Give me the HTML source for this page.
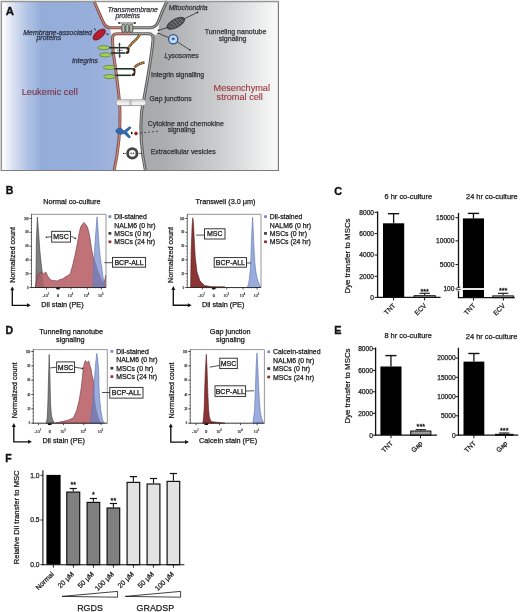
<!DOCTYPE html>
<html><head><meta charset="utf-8"><title>Figure</title>
<style>
html,body{margin:0;padding:0;background:#ffffff;}
body{width:520px;height:612px;overflow:hidden;}
svg{display:block;will-change:transform;}
text{font-family:"Liberation Sans", sans-serif;}
</style></head>
<body>
<svg width="520" height="612" viewBox="0 0 520 612" font-family='"Liberation Sans", sans-serif'>
<rect x="0" y="0" width="520" height="612" fill="#ffffff"/>
<defs>
<linearGradient id="gblue" x1="3.5" y1="0" x2="118" y2="0" gradientUnits="userSpaceOnUse">
<stop offset="0" stop-color="#fbfcfe"/><stop offset="0.06" stop-color="#e2e8f4"/>
<stop offset="0.20" stop-color="#b3c5e6"/><stop offset="0.34" stop-color="#93acd8"/>
<stop offset="0.75" stop-color="#97aedb"/><stop offset="1" stop-color="#a2b5de"/></linearGradient>
<linearGradient id="ggray" x1="140" y1="0" x2="278" y2="0" gradientUnits="userSpaceOnUse">
<stop offset="0" stop-color="#a7a8aa"/><stop offset="0.18" stop-color="#acadaf"/>
<stop offset="0.6" stop-color="#cfd0d1"/><stop offset="0.9" stop-color="#eeefef"/><stop offset="1" stop-color="#fafafa"/></linearGradient>
</defs>
<rect x="0" y="0" width="280" height="172" fill="#ffffff" stroke="none" stroke-width="1"/>
<path d="M2,2 L94,2 C98,10 101,18 104,23.5 Q106,27.8 110,28.5 L112.5,38.5 L113,50 C115.5,70 119.5,92 120,112 C120.5,135 117.5,155 114,170 L2,170 Z" fill="url(#gblue)" stroke="none" stroke-width="1"/>
<path d="M167,2 L278,2 L278,170 L145.5,170 C141.5,152 140,130 141.5,112 C145.5,90 151,62 153,40 L154,34.5 L158.5,34.5 L158.5,27.5 Q160,20 161.5,16 Z" fill="url(#ggray)" stroke="none" stroke-width="1"/>
<path d="M110,28 L158.5,28 L158.5,33.4 L113,33.4 Z" fill="#fbf8f8" stroke="none" stroke-width="1"/>
<path d="M94,1 C98,10 101,18 104,23.5 Q106,27.8 111,27.8 L123,27.8" fill="none" stroke="#8a5048" stroke-width="3.0"/>
<path d="M94,1 C98,10 101,18 104,23.5 Q106,27.8 111,27.8 L123,27.8" fill="none" stroke="#c89a90" stroke-width="1.0"/>
<path d="M131,33.7 L117,33.7 Q112.5,33.7 112.5,38.5 L113,50 C115.5,70 119.5,92 120,112 C120.5,135 117.5,155 114,171" fill="none" stroke="#8a5048" stroke-width="3.0"/>
<path d="M131,33.7 L117,33.7 Q112.5,33.7 112.5,38.5 L113,50 C115.5,70 119.5,92 120,112 C120.5,135 117.5,155 114,171" fill="none" stroke="#c89a90" stroke-width="1.0"/>
<path d="M133,27.8 L150,27.8 Q156.5,27.5 158.5,21 C161,14 164,7 167,1" fill="none" stroke="#5a5a5a" stroke-width="3.0"/>
<path d="M133,27.8 L150,27.8 Q156.5,27.5 158.5,21 C161,14 164,7 167,1" fill="none" stroke="#b4b4b4" stroke-width="1.0"/>
<path d="M130,33.7 L149,33.7 Q153.5,33.7 153,40 C151,62 145.5,90 141.5,112 C140,130 141.5,152 145.5,171" fill="none" stroke="#5a5a5a" stroke-width="3.0"/>
<path d="M130,33.7 L149,33.7 Q153.5,33.7 153,40 C151,62 145.5,90 141.5,112 C140,130 141.5,152 145.5,171" fill="none" stroke="#b4b4b4" stroke-width="1.0"/>
<line x1="119" y1="23.0" x2="135" y2="23.0" stroke="#333" stroke-width="0.8"/>
<circle cx="119" cy="23.0" r="0.9" fill="#222"/><circle cx="135" cy="23.0" r="0.9" fill="#222"/>
<rect x="121.7" y="24.3" width="3.4" height="8" fill="#98a496" stroke="#3a403a" stroke-width="0.7" rx="1.4"/>
<line x1="123.4" y1="25" x2="123.4" y2="31.6" stroke="#d8dcd6" stroke-width="0.5"/>
<rect x="125.6" y="24.3" width="3.4" height="8" fill="#98a496" stroke="#3a403a" stroke-width="0.7" rx="1.4"/>
<line x1="127.3" y1="25" x2="127.3" y2="31.6" stroke="#d8dcd6" stroke-width="0.5"/>
<rect x="129.5" y="24.3" width="3.4" height="8" fill="#98a496" stroke="#3a403a" stroke-width="0.7" rx="1.4"/>
<line x1="131.2" y1="25" x2="131.2" y2="31.6" stroke="#d8dcd6" stroke-width="0.5"/>
<ellipse cx="99.2" cy="34.6" rx="7.4" ry="3.6" transform="rotate(-40 99.2 34.6)" fill="#b81c2c" stroke="#5a0c14" stroke-width="0.7"/>
<line x1="94.4" y1="28.2" x2="95.9" y2="30.6" stroke="#1a2030" stroke-width="1.0"/>
<line x1="106.2" y1="33.8" x2="108.6" y2="34.6" stroke="#1a2030" stroke-width="1.0"/>
<ellipse cx="103.7" cy="47.7" rx="5.9" ry="2.0" fill="#a4cf52" stroke="#4f7c2a" stroke-width="0.7"/>
<ellipse cx="105.4" cy="54.9" rx="5.9" ry="2.0" fill="#a4cf52" stroke="#4f7c2a" stroke-width="0.7"/>
<ellipse cx="109.2" cy="67.4" rx="5.9" ry="2.0" fill="#a4cf52" stroke="#4f7c2a" stroke-width="0.7"/>
<ellipse cx="109.6" cy="76.6" rx="5.9" ry="2.0" fill="#a4cf52" stroke="#4f7c2a" stroke-width="0.7"/>
<line x1="109" y1="47.7" x2="126.5" y2="47.7" stroke="#1f3524" stroke-width="1.6"/>
<line x1="110.8" y1="53.0" x2="125.5" y2="53.0" stroke="#1f3524" stroke-width="1.6"/>
<line x1="114.5" y1="68.8" x2="132.5" y2="68.8" stroke="#1f3524" stroke-width="1.6"/>
<line x1="115.5" y1="75.3" x2="131.5" y2="75.3" stroke="#1f3524" stroke-width="1.6"/>
<path d="M126.5,47.7 C129.5,47.7 129.5,53.0 126.0,53.0" fill="none" stroke="#3a2418" stroke-width="1.7"/>
<circle cx="128.0" cy="48.5" r="1.5" fill="#3a2418"/><circle cx="127.7" cy="52.2" r="1.4" fill="#3a2418"/>
<path d="M132.5,68.8 C135.5,68.8 135.5,75.3 132.0,75.3" fill="none" stroke="#3a2418" stroke-width="1.7"/>
<circle cx="134.0" cy="69.6" r="1.5" fill="#3a2418"/><circle cx="133.7" cy="74.5" r="1.4" fill="#3a2418"/>
<line x1="119.5" y1="44" x2="119.7" y2="56.5" stroke="#23304a" stroke-width="1.0"/>
<path d="M118.3,45 L119.5,42.3 L120.7,45 Z" fill="#23304a" stroke="none" stroke-width="1"/>
<path d="M118.5,55.5 L119.7,58.2 L120.9,55.5 Z" fill="#23304a" stroke="none" stroke-width="1"/>
<line x1="117" y1="50.3" x2="122.5" y2="50.3" stroke="#23304a" stroke-width="0.7"/>
<path d="M129,47 C131,44 133.5,41.5 135.5,40 C137.5,38.5 139,36 140,34" fill="none" stroke="#5e4226" stroke-width="2.6"/>
<path d="M129,47 C131,44 133.5,41.5 135.5,40 C137.5,38.5 139,36 140,34" fill="none" stroke="#c8a060" stroke-width="1.4" stroke-dasharray="1.5 0.7"/>
<path d="M134.5,67.5 C136.5,65 139,63.5 144.5,62.5" fill="none" stroke="#5e4226" stroke-width="2.6"/>
<path d="M134.5,67.5 C136.5,65 139,63.5 144.5,62.5" fill="none" stroke="#c8a060" stroke-width="1.4" stroke-dasharray="1.5 0.7"/>
<g transform="rotate(-28 175.8 23.3)"><ellipse cx="175.8" cy="23.3" rx="9.8" ry="4.3" fill="#4e4f52" stroke="#2a2a2c" stroke-width="0.7"/><path d="M168.5,22 C169.5,24 170.5,25 171,26 M171.5,20.2 C172.5,22.5 173.5,24.5 174,26.8 M174.8,19.6 C175.8,22 176.5,24.5 177,27 M178,19.8 C179,22 179.6,24.5 180,26.6 M181,20.6 C181.8,22.5 182.4,24 182.8,25.5" stroke="#8c8e94" stroke-width="0.7" fill="none"/></g>
<line x1="158.5" y1="30.3" x2="167.5" y2="27.6" stroke="#222" stroke-width="0.75"/>
<line x1="184.3" y1="18.8" x2="197.4" y2="12.4" stroke="#222" stroke-width="0.75"/>
<circle cx="197.4" cy="12.4" r="0.85" fill="#222"/><circle cx="158.5" cy="30.3" r="0.85" fill="#222"/>
<circle cx="173.2" cy="39.2" r="4.6" fill="#c4d8f0" stroke="#2a5590" stroke-width="1.3"/><path d="M171.6,38.6 C172,37.2 174,37 174.6,38.2 C175.2,39.4 174,40.4 173,40.2 C172.2,40 171.4,39.6 171.6,38.6 Z" fill="#2f6aaa"/>
<line x1="158" y1="33.1" x2="168.6" y2="37.6" stroke="#222" stroke-width="0.75"/>
<line x1="177.5" y1="42" x2="190" y2="50" stroke="#222" stroke-width="0.7"/>
<circle cx="190" cy="50" r="0.8" fill="#222"/><circle cx="158" cy="33.5" r="0.8" fill="#222"/>
<rect x="116" y="99.8" width="30" height="5.8" fill="#f0f0f0" stroke="#8a8a8a" stroke-width="0.8" rx="2.2"/>
<line x1="117.5" y1="101.6" x2="144.5" y2="101.6" stroke="#d0d0d0" stroke-width="0.8"/>
<path d="M130.3,100 C129.6,101.5 129.6,104 130.3,105.4 M131.6,100 C130.9,101.5 130.9,104 131.6,105.4" fill="none" stroke="#8a8a8a" stroke-width="0.6"/>
<path d="M116,130 C119,127 122,128 124,131 L129,127 C130,126 131.5,127.5 130.5,128.5 L126.5,132 L130,136 C131,137.5 129.5,138.5 128.3,137.5 L124,133.5 C121,135 118,134 116,132 Z" fill="#2f6bb5" stroke="#1b3f73" stroke-width="0.5"/>
<rect x="134.4" y="131.9" width="3.2" height="3.2" transform="rotate(45 136 133.5)" fill="#a01e2a"/>
<line x1="140" y1="133" x2="160" y2="131" stroke="#333" stroke-width="0.8" stroke-dasharray="2 2"/>
<path d="M131,131.5 L133.2,133 L131,134.5 Z" fill="#111"/>
<circle cx="132.3" cy="153.4" r="4.7" fill="#ffffff" stroke="#454545" stroke-width="2.8"/><circle cx="131.1" cy="153.4" r="0.8" fill="#444"/><circle cx="133.5" cy="153.4" r="0.8" fill="#444"/>
<circle cx="123.6" cy="153.4" r="0.7" fill="#333"/><circle cx="140.8" cy="153.4" r="0.7" fill="#333"/>
<line x1="124.5" y1="153.4" x2="126" y2="153.4" stroke="#333" stroke-width="0.7"/>
<line x1="138.5" y1="153.4" x2="140" y2="153.4" stroke="#333" stroke-width="0.7"/>
<path d="M1.3,171 L1.3,1.5 L278.5,1.5" fill="none" stroke="#959595" stroke-width="1.5"/>
<path d="M1.5,170.5 L278.4,170.5 L278.4,1.5" fill="none" stroke="#7c7c7c" stroke-width="1.2"/>
<text x="5.7" y="15" font-size="11.4" fill="#111" text-anchor="start" font-weight="bold" stroke="#111" stroke-width="0.35">A</text>
<text x="107.8" y="12" font-size="6.9" fill="#333338" text-anchor="start" font-style="italic" stroke="#333338" stroke-width="0.25">Transmembrane</text>
<text x="115.4" y="18.1" font-size="6.9" fill="#333338" text-anchor="start" font-style="italic" stroke="#333338" stroke-width="0.25">proteins</text>
<text x="168.7" y="9.7" font-size="6.8" fill="#333338" text-anchor="start" font-style="italic" stroke="#333338" stroke-width="0.25">Mitochondria</text>
<text x="23.3" y="34.5" font-size="6.95" fill="#2c3140" text-anchor="start" font-style="italic" stroke="#2c3140" stroke-width="0.25">Membrane-associated</text>
<text x="36.5" y="39.6" font-size="6.95" fill="#2c3140" text-anchor="start" font-style="italic" stroke="#2c3140" stroke-width="0.25">proteins</text>
<text x="204.7" y="33.9" font-size="7" fill="#333338" text-anchor="start" stroke="#333338" stroke-width="0.25">Tunneling nanotube</text>
<text x="218.8" y="40.5" font-size="7" fill="#333338" text-anchor="start" stroke="#333338" stroke-width="0.25">signaling</text>
<text x="164.5" y="58.2" font-size="6.8" fill="#333338" text-anchor="start" font-style="italic" stroke="#333338" stroke-width="0.25">Lysosomes</text>
<text x="71.9" y="63.2" font-size="6.8" fill="#2c3140" text-anchor="start" font-style="italic" stroke="#2c3140" stroke-width="0.25">Integrins</text>
<text x="151" y="77.3" font-size="6.84" fill="#333338" text-anchor="start" stroke="#333338" stroke-width="0.25">Integrin signalling</text>
<text x="21.7" y="94.8" font-size="9.25" fill="#7d2e44" text-anchor="start" stroke="#7d2e44" stroke-width="0.1">Leukemic cell</text>
<text x="213.5" y="90.8" font-size="9.16" fill="#9c3238" text-anchor="start" stroke="#9c3238" stroke-width="0.1">Mesenchymal</text>
<text x="216.6" y="99.6" font-size="9.16" fill="#9c3238" text-anchor="start" stroke="#9c3238" stroke-width="0.1">stromal cell</text>
<text x="149.5" y="100.7" font-size="6.9" fill="#333338" text-anchor="start" stroke="#333338" stroke-width="0.25">Gap junctions</text>
<text x="147.8" y="125.5" font-size="6.94" fill="#333338" text-anchor="start" stroke="#333338" stroke-width="0.25">Cytokine and chemokine</text>
<text x="167.7" y="132" font-size="6.94" fill="#333338" text-anchor="start" stroke="#333338" stroke-width="0.25">signaling</text>
<text x="150.7" y="154" font-size="6.96" fill="#333338" text-anchor="start" stroke="#333338" stroke-width="0.25">Extracellular vesicles</text>
<text x="5.8" y="194.4" font-size="10.5" fill="#111" text-anchor="start" font-weight="bold" stroke="#111" stroke-width="0.35">B</text>
<path d="M35.8,287.5 L36.4,240.0 L37.4,217.0 L38.4,230.0 L39.8,250.0 L41.2,264.0 L42.4,273.0 L43.2,281.0 L44.0,287.5 Z" fill="#7e7e7e" stroke="#3c3c3c" stroke-width="0.6"/>
<path d="M35.2,287.5 L36.5,281.0 L37.8,276.0 L39.1,273.3 L40.5,273.0 L41.5,272.8 L43.5,273.8 L45.7,272.0 L48.0,276.5 L51.0,280.2 L54.0,280.5 L57.0,281.0 L60.0,279.5 L63.0,278.7 L66.0,276.5 L68.0,275.5 L70.3,273.5 L72.5,266.0 L74.7,256.5 L76.5,248.0 L77.6,241.8 L79.0,234.0 L80.6,227.0 L82.0,224.8 L83.0,223.6 L83.8,222.4 L84.6,223.2 L85.7,224.2 L86.8,226.0 L87.9,228.5 L89.0,233.0 L90.1,238.8 L91.6,249.0 L93.1,256.5 L95.3,261.5 L98.2,270.5 L101.2,278.0 L103.5,282.5 L104.8,280.0 L105.6,275.0 L105.6,287.5 Z" fill="#c07278" stroke="none" stroke-width="1"/>
<clipPath id="clp1"><path d="M35.2,287.5 L36.5,281.0 L37.8,276.0 L39.1,273.3 L40.5,273.0 L41.5,272.8 L43.5,273.8 L45.7,272.0 L48.0,276.5 L51.0,280.2 L54.0,280.5 L57.0,281.0 L60.0,279.5 L63.0,278.7 L66.0,276.5 L68.0,275.5 L70.3,273.5 L72.5,266.0 L74.7,256.5 L76.5,248.0 L77.6,241.8 L79.0,234.0 L80.6,227.0 L82.0,224.8 L83.0,223.6 L83.8,222.4 L84.6,223.2 L85.7,224.2 L86.8,226.0 L87.9,228.5 L89.0,233.0 L90.1,238.8 L91.6,249.0 L93.1,256.5 L95.3,261.5 L98.2,270.5 L101.2,278.0 L103.5,282.5 L104.8,280.0 L105.6,275.0 L105.6,287.5 Z"/></clipPath>
<path d="M35.8,287.5 L36.4,240.0 L37.4,217.0 L38.4,230.0 L39.8,250.0 L41.2,264.0 L42.4,273.0 L43.2,281.0 L44.0,287.5 Z" fill="#a4646a" stroke="none" stroke-width="1" clip-path="url(#clp1)"/>
<path d="M35.2,287.5 L36.5,281.0 L37.8,276.0 L39.1,273.3 L40.5,273.0 L41.5,272.8 L43.5,273.8 L45.7,272.0 L48.0,276.5 L51.0,280.2 L54.0,280.5 L57.0,281.0 L60.0,279.5 L63.0,278.7 L66.0,276.5 L68.0,275.5 L70.3,273.5 L72.5,266.0 L74.7,256.5 L76.5,248.0 L77.6,241.8 L79.0,234.0 L80.6,227.0 L82.0,224.8 L83.0,223.6 L83.8,222.4 L84.6,223.2 L85.7,224.2 L86.8,226.0 L87.9,228.5 L89.0,233.0 L90.1,238.8 L91.6,249.0 L93.1,256.5 L95.3,261.5 L98.2,270.5 L101.2,278.0 L103.5,282.5 L104.8,280.0 L105.6,275.0 L105.6,287.5 Z" fill="none" stroke="#70323a" stroke-width="0.6"/>
<path d="M93.0,287.5 L93.3,275.0 L93.6,264.0 L94.6,250.0 L95.4,238.0 L96.3,226.0 L97.0,216.8 L97.8,226.0 L98.6,238.0 L99.4,249.0 L100.2,257.0 L101.2,263.8 L102.3,272.0 L103.4,279.0 L104.6,287.5 Z" fill="#9aacdc" stroke="none" stroke-width="1"/>
<clipPath id="clp2"><path d="M35.2,287.5 L36.5,281.0 L37.8,276.0 L39.1,273.3 L40.5,273.0 L41.5,272.8 L43.5,273.8 L45.7,272.0 L48.0,276.5 L51.0,280.2 L54.0,280.5 L57.0,281.0 L60.0,279.5 L63.0,278.7 L66.0,276.5 L68.0,275.5 L70.3,273.5 L72.5,266.0 L74.7,256.5 L76.5,248.0 L77.6,241.8 L79.0,234.0 L80.6,227.0 L82.0,224.8 L83.0,223.6 L83.8,222.4 L84.6,223.2 L85.7,224.2 L86.8,226.0 L87.9,228.5 L89.0,233.0 L90.1,238.8 L91.6,249.0 L93.1,256.5 L95.3,261.5 L98.2,270.5 L101.2,278.0 L103.5,282.5 L104.8,280.0 L105.6,275.0 L105.6,287.5 Z"/></clipPath>
<path d="M93.0,287.5 L93.3,275.0 L93.6,264.0 L94.6,250.0 L95.4,238.0 L96.3,226.0 L97.0,216.8 L97.8,226.0 L98.6,238.0 L99.4,249.0 L100.2,257.0 L101.2,263.8 L102.3,272.0 L103.4,279.0 L104.6,287.5 Z" fill="#7e7cb0" stroke="none" stroke-width="1" clip-path="url(#clp2)"/>
<path d="M93.0,287.5 L93.3,275.0 L93.6,264.0 L94.6,250.0 L95.4,238.0 L96.3,226.0 L97.0,216.8 L97.8,226.0 L98.6,238.0 L99.4,249.0 L100.2,257.0 L101.2,263.8 L102.3,272.0 L103.4,279.0 L104.6,287.5 Z" fill="none" stroke="#5a70b0" stroke-width="0.6"/>
<line x1="31.5" y1="214.3" x2="106" y2="214.3" stroke="#8a8a8a" stroke-width="0.9"/>
<line x1="106" y1="214.3" x2="106" y2="287.5" stroke="#8a8a8a" stroke-width="0.9"/>
<line x1="31.5" y1="213.8" x2="31.5" y2="287.5" stroke="#444" stroke-width="0.8"/>
<line x1="31.0" y1="287.5" x2="106" y2="287.5" stroke="#222" stroke-width="0.9"/>
<line x1="29.5" y1="287.5" x2="31.5" y2="287.5" stroke="#222" stroke-width="0.8"/>
<text x="28.5" y="288.5" font-size="2.6" fill="#555" text-anchor="end" stroke="#555" stroke-width="0.25">0</text>
<line x1="29.5" y1="273.7" x2="31.5" y2="273.7" stroke="#222" stroke-width="0.8"/>
<text x="28.5" y="274.7" font-size="2.6" fill="#555" text-anchor="end" stroke="#555" stroke-width="0.25">20</text>
<line x1="29.5" y1="259.9" x2="31.5" y2="259.9" stroke="#222" stroke-width="0.8"/>
<text x="28.5" y="260.9" font-size="2.6" fill="#555" text-anchor="end" stroke="#555" stroke-width="0.25">40</text>
<line x1="29.5" y1="246.1" x2="31.5" y2="246.1" stroke="#222" stroke-width="0.8"/>
<text x="28.5" y="247.1" font-size="2.6" fill="#555" text-anchor="end" stroke="#555" stroke-width="0.25">60</text>
<line x1="29.5" y1="232.3" x2="31.5" y2="232.3" stroke="#222" stroke-width="0.8"/>
<text x="28.5" y="233.3" font-size="2.6" fill="#555" text-anchor="end" stroke="#555" stroke-width="0.25">80</text>
<line x1="29.5" y1="218.5" x2="31.5" y2="218.5" stroke="#222" stroke-width="0.8"/>
<text x="28.5" y="219.5" font-size="2.6" fill="#555" text-anchor="end" stroke="#555" stroke-width="0.25">100</text>
<line x1="30.5" y1="287.5" x2="31.5" y2="287.5" stroke="#444" stroke-width="0.5"/>
<line x1="30.5" y1="284.05" x2="31.5" y2="284.05" stroke="#444" stroke-width="0.5"/>
<line x1="30.5" y1="280.6" x2="31.5" y2="280.6" stroke="#444" stroke-width="0.5"/>
<line x1="30.5" y1="277.15" x2="31.5" y2="277.15" stroke="#444" stroke-width="0.5"/>
<line x1="30.5" y1="273.7" x2="31.5" y2="273.7" stroke="#444" stroke-width="0.5"/>
<line x1="30.5" y1="270.25" x2="31.5" y2="270.25" stroke="#444" stroke-width="0.5"/>
<line x1="30.5" y1="266.8" x2="31.5" y2="266.8" stroke="#444" stroke-width="0.5"/>
<line x1="30.5" y1="263.35" x2="31.5" y2="263.35" stroke="#444" stroke-width="0.5"/>
<line x1="30.5" y1="259.9" x2="31.5" y2="259.9" stroke="#444" stroke-width="0.5"/>
<line x1="30.5" y1="256.45" x2="31.5" y2="256.45" stroke="#444" stroke-width="0.5"/>
<line x1="30.5" y1="253.0" x2="31.5" y2="253.0" stroke="#444" stroke-width="0.5"/>
<line x1="30.5" y1="249.55" x2="31.5" y2="249.55" stroke="#444" stroke-width="0.5"/>
<line x1="30.5" y1="246.1" x2="31.5" y2="246.1" stroke="#444" stroke-width="0.5"/>
<line x1="30.5" y1="242.65" x2="31.5" y2="242.65" stroke="#444" stroke-width="0.5"/>
<line x1="30.5" y1="239.2" x2="31.5" y2="239.2" stroke="#444" stroke-width="0.5"/>
<line x1="30.5" y1="235.75" x2="31.5" y2="235.75" stroke="#444" stroke-width="0.5"/>
<line x1="30.5" y1="232.3" x2="31.5" y2="232.3" stroke="#444" stroke-width="0.5"/>
<line x1="30.5" y1="228.85" x2="31.5" y2="228.85" stroke="#444" stroke-width="0.5"/>
<line x1="30.5" y1="225.4" x2="31.5" y2="225.4" stroke="#444" stroke-width="0.5"/>
<line x1="30.5" y1="221.95" x2="31.5" y2="221.95" stroke="#444" stroke-width="0.5"/>
<line x1="30.5" y1="218.5" x2="31.5" y2="218.5" stroke="#444" stroke-width="0.5"/>
<line x1="46.5" y1="287.5" x2="46.5" y2="289.5" stroke="#222" stroke-width="0.8"/>
<text x="45.9" y="296.9" font-size="3.6" fill="#333" stroke="#333" stroke-width="0.15" text-anchor="middle">-10<tspan dy="-2" font-size="2.6">2</tspan></text>
<line x1="58.0" y1="287.5" x2="58.0" y2="289.5" stroke="#222" stroke-width="0.8"/>
<text x="58.0" y="296.9" font-size="3.6" fill="#333" text-anchor="middle" stroke="#333" stroke-width="0.25">0</text>
<line x1="71.0" y1="287.5" x2="71.0" y2="289.5" stroke="#222" stroke-width="0.8"/>
<text x="70.4" y="296.9" font-size="3.6" fill="#333" stroke="#333" stroke-width="0.15" text-anchor="middle">10<tspan dy="-2" font-size="2.6">3</tspan></text>
<line x1="87.2" y1="287.5" x2="87.2" y2="289.5" stroke="#222" stroke-width="0.8"/>
<text x="86.60000000000001" y="296.9" font-size="3.6" fill="#333" stroke="#333" stroke-width="0.15" text-anchor="middle">10<tspan dy="-2" font-size="2.6">4</tspan></text>
<line x1="101.3" y1="287.5" x2="101.3" y2="289.5" stroke="#222" stroke-width="0.8"/>
<text x="100.7" y="296.9" font-size="3.6" fill="#333" stroke="#333" stroke-width="0.15" text-anchor="middle">10<tspan dy="-2" font-size="2.6">5</tspan></text>
<line x1="48.8" y1="287.5" x2="48.8" y2="288.5" stroke="#555" stroke-width="0.5"/>
<line x1="51.1" y1="287.5" x2="51.1" y2="288.5" stroke="#555" stroke-width="0.5"/>
<line x1="53.4" y1="287.5" x2="53.4" y2="288.5" stroke="#555" stroke-width="0.5"/>
<line x1="55.7" y1="287.5" x2="55.7" y2="288.5" stroke="#555" stroke-width="0.5"/>
<line x1="60.6" y1="287.5" x2="60.6" y2="288.5" stroke="#555" stroke-width="0.5"/>
<line x1="63.2" y1="287.5" x2="63.2" y2="288.5" stroke="#555" stroke-width="0.5"/>
<line x1="65.8" y1="287.5" x2="65.8" y2="288.5" stroke="#555" stroke-width="0.5"/>
<line x1="68.4" y1="287.5" x2="68.4" y2="288.5" stroke="#555" stroke-width="0.5"/>
<line x1="74.24" y1="287.5" x2="74.24" y2="288.5" stroke="#555" stroke-width="0.5"/>
<line x1="77.48" y1="287.5" x2="77.48" y2="288.5" stroke="#555" stroke-width="0.5"/>
<line x1="80.72" y1="287.5" x2="80.72" y2="288.5" stroke="#555" stroke-width="0.5"/>
<line x1="83.96000000000001" y1="287.5" x2="83.96000000000001" y2="288.5" stroke="#555" stroke-width="0.5"/>
<line x1="90.02" y1="287.5" x2="90.02" y2="288.5" stroke="#555" stroke-width="0.5"/>
<line x1="92.84" y1="287.5" x2="92.84" y2="288.5" stroke="#555" stroke-width="0.5"/>
<line x1="95.66" y1="287.5" x2="95.66" y2="288.5" stroke="#555" stroke-width="0.5"/>
<line x1="98.48" y1="287.5" x2="98.48" y2="288.5" stroke="#555" stroke-width="0.5"/>
<line x1="56.2" y1="288.5" x2="59.8" y2="288.5" stroke="#111" stroke-width="1.6"/>
<rect x="108.5" y="215.29999999999998" width="2.8" height="2.6" fill="#6f86c0" stroke="none" stroke-width="1"/>
<rect x="108.5" y="232.1" width="2.8" height="2.6" fill="#333333" stroke="none" stroke-width="1"/>
<rect x="108.5" y="240.49999999999997" width="2.8" height="2.6" fill="#8e2a2e" stroke="none" stroke-width="1"/>
<text x="114.2" y="219.2" font-size="6.9" fill="#1a1a1a" text-anchor="start" stroke="#1a1a1a" stroke-width="0.25">Dil-stained</text>
<text x="114.2" y="227.6" font-size="6.9" fill="#1a1a1a" text-anchor="start" stroke="#1a1a1a" stroke-width="0.25">NALM6 (0 hr)</text>
<text x="114.2" y="236.0" font-size="6.9" fill="#1a1a1a" text-anchor="start" stroke="#1a1a1a" stroke-width="0.25">MSCs (0 hr)</text>
<text x="114.2" y="244.39999999999998" font-size="6.9" fill="#1a1a1a" text-anchor="start" stroke="#1a1a1a" stroke-width="0.25">MSCs (24 hr)</text>
<text x="43.3" y="204.2" font-size="7.25" fill="#1a1a1a" text-anchor="start" stroke="#1a1a1a" stroke-width="0.25">Normal co-culture</text>
<text x="41.3" y="307.3" font-size="7.25" fill="#1a1a1a" text-anchor="start" stroke="#1a1a1a" stroke-width="0.25">Dil stain (PE)</text>
<text x="15.5" y="254.9" font-size="7.2" fill="#1a1a1a" text-anchor="middle" transform="rotate(-90 15.5 254.9)" stroke="#1a1a1a" stroke-width="0.25">Normalized count</text>
<path d="M12.3,289.5 L12.3,305.3 L27.8,305.3" fill="none" stroke="#111" stroke-width="1.35"/>
<path d="M10.3,290.3 L12.3,286.5 L14.3,290.3 Z" fill="#111" stroke="none" stroke-width="1"/>
<path d="M27.0,303.3 L30.8,305.3 L27.0,307.3 Z" fill="#111" stroke="none" stroke-width="1"/>
<rect x="51.7" y="231.3" width="18.700000000000003" height="10.799999999999983" fill="#ffffff" stroke="#222" stroke-width="0.9"/>
<text x="61.050000000000004" y="239.2" font-size="7" fill="#111" text-anchor="middle" stroke="#111" stroke-width="0.25">MSC</text>
<path d="M51.7,236.7 L46.3,237.3" fill="none" stroke="#222" stroke-width="0.8"/>
<path d="M70.4,236.7 C72,236.5 73,237 74.5,238" fill="none" stroke="#222" stroke-width="0.8"/>
<circle cx="75.3" cy="238.3" r="0.9" fill="#222"/><circle cx="46.3" cy="237.3" r="0.7" fill="#222"/>
<rect x="112.5" y="257.4" width="33.099999999999994" height="9.800000000000011" fill="#ffffff" stroke="#222" stroke-width="0.9"/>
<text x="129.05" y="264.79999999999995" font-size="7" fill="#111" text-anchor="middle" stroke="#111" stroke-width="0.25">BCP-ALL</text>
<line x1="104.4" y1="262.7" x2="112.5" y2="262.7" stroke="#222" stroke-width="0.8"/>
<path d="M190.6,287.5 L191.2,250.0 L192.0,228.0 L192.8,217.8 L193.5,224.0 L194.0,234.5 L195.2,257.0 L197.0,272.0 L200.0,281.0 L204.5,285.5 L212.0,286.8 L225.0,287.0 Z" fill="#8a3434" stroke="#5a1a1a" stroke-width="0.6"/>
<path d="M247.2,287.5 L248.5,284.4 L249.5,278.0 L250.2,270.7 L250.8,260.0 L251.1,251.0 L251.7,235.0 L252.6,217.2 L253.3,232.0 L254.1,250.0 L254.8,262.0 L255.6,270.0 L256.8,277.0 L258.3,282.0 L260.9,287.5 Z" fill="#9aacdc" stroke="#5a70b0" stroke-width="0.6"/>
<line x1="187.3" y1="214.3" x2="261.0" y2="214.3" stroke="#8a8a8a" stroke-width="0.9"/>
<line x1="261.0" y1="214.3" x2="261.0" y2="287.5" stroke="#8a8a8a" stroke-width="0.9"/>
<line x1="187.3" y1="213.8" x2="187.3" y2="287.5" stroke="#444" stroke-width="0.8"/>
<line x1="186.8" y1="287.5" x2="261.0" y2="287.5" stroke="#222" stroke-width="0.9"/>
<line x1="185.3" y1="287.5" x2="187.3" y2="287.5" stroke="#222" stroke-width="0.8"/>
<text x="184.3" y="288.5" font-size="2.6" fill="#555" text-anchor="end" stroke="#555" stroke-width="0.25">0</text>
<line x1="185.3" y1="273.7" x2="187.3" y2="273.7" stroke="#222" stroke-width="0.8"/>
<text x="184.3" y="274.7" font-size="2.6" fill="#555" text-anchor="end" stroke="#555" stroke-width="0.25">20</text>
<line x1="185.3" y1="259.9" x2="187.3" y2="259.9" stroke="#222" stroke-width="0.8"/>
<text x="184.3" y="260.9" font-size="2.6" fill="#555" text-anchor="end" stroke="#555" stroke-width="0.25">40</text>
<line x1="185.3" y1="246.1" x2="187.3" y2="246.1" stroke="#222" stroke-width="0.8"/>
<text x="184.3" y="247.1" font-size="2.6" fill="#555" text-anchor="end" stroke="#555" stroke-width="0.25">60</text>
<line x1="185.3" y1="232.3" x2="187.3" y2="232.3" stroke="#222" stroke-width="0.8"/>
<text x="184.3" y="233.3" font-size="2.6" fill="#555" text-anchor="end" stroke="#555" stroke-width="0.25">80</text>
<line x1="185.3" y1="218.5" x2="187.3" y2="218.5" stroke="#222" stroke-width="0.8"/>
<text x="184.3" y="219.5" font-size="2.6" fill="#555" text-anchor="end" stroke="#555" stroke-width="0.25">100</text>
<line x1="186.3" y1="287.5" x2="187.3" y2="287.5" stroke="#444" stroke-width="0.5"/>
<line x1="186.3" y1="284.05" x2="187.3" y2="284.05" stroke="#444" stroke-width="0.5"/>
<line x1="186.3" y1="280.6" x2="187.3" y2="280.6" stroke="#444" stroke-width="0.5"/>
<line x1="186.3" y1="277.15" x2="187.3" y2="277.15" stroke="#444" stroke-width="0.5"/>
<line x1="186.3" y1="273.7" x2="187.3" y2="273.7" stroke="#444" stroke-width="0.5"/>
<line x1="186.3" y1="270.25" x2="187.3" y2="270.25" stroke="#444" stroke-width="0.5"/>
<line x1="186.3" y1="266.8" x2="187.3" y2="266.8" stroke="#444" stroke-width="0.5"/>
<line x1="186.3" y1="263.35" x2="187.3" y2="263.35" stroke="#444" stroke-width="0.5"/>
<line x1="186.3" y1="259.9" x2="187.3" y2="259.9" stroke="#444" stroke-width="0.5"/>
<line x1="186.3" y1="256.45" x2="187.3" y2="256.45" stroke="#444" stroke-width="0.5"/>
<line x1="186.3" y1="253.0" x2="187.3" y2="253.0" stroke="#444" stroke-width="0.5"/>
<line x1="186.3" y1="249.55" x2="187.3" y2="249.55" stroke="#444" stroke-width="0.5"/>
<line x1="186.3" y1="246.1" x2="187.3" y2="246.1" stroke="#444" stroke-width="0.5"/>
<line x1="186.3" y1="242.65" x2="187.3" y2="242.65" stroke="#444" stroke-width="0.5"/>
<line x1="186.3" y1="239.2" x2="187.3" y2="239.2" stroke="#444" stroke-width="0.5"/>
<line x1="186.3" y1="235.75" x2="187.3" y2="235.75" stroke="#444" stroke-width="0.5"/>
<line x1="186.3" y1="232.3" x2="187.3" y2="232.3" stroke="#444" stroke-width="0.5"/>
<line x1="186.3" y1="228.85" x2="187.3" y2="228.85" stroke="#444" stroke-width="0.5"/>
<line x1="186.3" y1="225.4" x2="187.3" y2="225.4" stroke="#444" stroke-width="0.5"/>
<line x1="186.3" y1="221.95" x2="187.3" y2="221.95" stroke="#444" stroke-width="0.5"/>
<line x1="186.3" y1="218.5" x2="187.3" y2="218.5" stroke="#444" stroke-width="0.5"/>
<line x1="202.3" y1="287.5" x2="202.3" y2="289.5" stroke="#222" stroke-width="0.8"/>
<text x="201.70000000000002" y="296.9" font-size="3.6" fill="#333" stroke="#333" stroke-width="0.15" text-anchor="middle">-10<tspan dy="-2" font-size="2.6">2</tspan></text>
<line x1="213.8" y1="287.5" x2="213.8" y2="289.5" stroke="#222" stroke-width="0.8"/>
<text x="213.8" y="296.9" font-size="3.6" fill="#333" text-anchor="middle" stroke="#333" stroke-width="0.25">0</text>
<line x1="226.8" y1="287.5" x2="226.8" y2="289.5" stroke="#222" stroke-width="0.8"/>
<text x="226.20000000000002" y="296.9" font-size="3.6" fill="#333" stroke="#333" stroke-width="0.15" text-anchor="middle">10<tspan dy="-2" font-size="2.6">3</tspan></text>
<line x1="243.0" y1="287.5" x2="243.0" y2="289.5" stroke="#222" stroke-width="0.8"/>
<text x="242.4" y="296.9" font-size="3.6" fill="#333" stroke="#333" stroke-width="0.15" text-anchor="middle">10<tspan dy="-2" font-size="2.6">4</tspan></text>
<line x1="257.1" y1="287.5" x2="257.1" y2="289.5" stroke="#222" stroke-width="0.8"/>
<text x="256.5" y="296.9" font-size="3.6" fill="#333" stroke="#333" stroke-width="0.15" text-anchor="middle">10<tspan dy="-2" font-size="2.6">5</tspan></text>
<line x1="204.60000000000002" y1="287.5" x2="204.60000000000002" y2="288.5" stroke="#555" stroke-width="0.5"/>
<line x1="206.9" y1="287.5" x2="206.9" y2="288.5" stroke="#555" stroke-width="0.5"/>
<line x1="209.20000000000002" y1="287.5" x2="209.20000000000002" y2="288.5" stroke="#555" stroke-width="0.5"/>
<line x1="211.5" y1="287.5" x2="211.5" y2="288.5" stroke="#555" stroke-width="0.5"/>
<line x1="216.4" y1="287.5" x2="216.4" y2="288.5" stroke="#555" stroke-width="0.5"/>
<line x1="219.0" y1="287.5" x2="219.0" y2="288.5" stroke="#555" stroke-width="0.5"/>
<line x1="221.60000000000002" y1="287.5" x2="221.60000000000002" y2="288.5" stroke="#555" stroke-width="0.5"/>
<line x1="224.20000000000002" y1="287.5" x2="224.20000000000002" y2="288.5" stroke="#555" stroke-width="0.5"/>
<line x1="230.04000000000002" y1="287.5" x2="230.04000000000002" y2="288.5" stroke="#555" stroke-width="0.5"/>
<line x1="233.28" y1="287.5" x2="233.28" y2="288.5" stroke="#555" stroke-width="0.5"/>
<line x1="236.52" y1="287.5" x2="236.52" y2="288.5" stroke="#555" stroke-width="0.5"/>
<line x1="239.76" y1="287.5" x2="239.76" y2="288.5" stroke="#555" stroke-width="0.5"/>
<line x1="245.82" y1="287.5" x2="245.82" y2="288.5" stroke="#555" stroke-width="0.5"/>
<line x1="248.64000000000001" y1="287.5" x2="248.64000000000001" y2="288.5" stroke="#555" stroke-width="0.5"/>
<line x1="251.46" y1="287.5" x2="251.46" y2="288.5" stroke="#555" stroke-width="0.5"/>
<line x1="254.28000000000003" y1="287.5" x2="254.28000000000003" y2="288.5" stroke="#555" stroke-width="0.5"/>
<line x1="212.0" y1="288.5" x2="215.60000000000002" y2="288.5" stroke="#111" stroke-width="1.6"/>
<rect x="264.1" y="215.29999999999998" width="2.8" height="2.6" fill="#6f86c0" stroke="none" stroke-width="1"/>
<rect x="264.1" y="232.1" width="2.8" height="2.6" fill="#333333" stroke="none" stroke-width="1"/>
<rect x="264.1" y="240.49999999999997" width="2.8" height="2.6" fill="#8e2a2e" stroke="none" stroke-width="1"/>
<text x="269.8" y="219.2" font-size="6.9" fill="#1a1a1a" text-anchor="start" stroke="#1a1a1a" stroke-width="0.25">Dil-stained</text>
<text x="269.8" y="227.6" font-size="6.9" fill="#1a1a1a" text-anchor="start" stroke="#1a1a1a" stroke-width="0.25">NALM6 (0 hr)</text>
<text x="269.8" y="236.0" font-size="6.9" fill="#1a1a1a" text-anchor="start" stroke="#1a1a1a" stroke-width="0.25">MSCs (0 hr)</text>
<text x="269.8" y="244.39999999999998" font-size="6.9" fill="#1a1a1a" text-anchor="start" stroke="#1a1a1a" stroke-width="0.25">MSCs (24 hr)</text>
<text x="195.6" y="204.4" font-size="7.25" fill="#1a1a1a" text-anchor="start" stroke="#1a1a1a" stroke-width="0.25">Transwell (3.0 μm)</text>
<text x="202.0" y="307.3" font-size="7.25" fill="#1a1a1a" text-anchor="start" stroke="#1a1a1a" stroke-width="0.25">Dil stain (PE)</text>
<text x="172.7" y="254.9" font-size="7.2" fill="#1a1a1a" text-anchor="middle" transform="rotate(-90 172.7 254.9)" stroke="#1a1a1a" stroke-width="0.25">Normalized count</text>
<path d="M173.3,289.1 L173.3,305.2 L188.7,305.2" fill="none" stroke="#111" stroke-width="1.35"/>
<path d="M171.3,289.90000000000003 L173.3,286.1 L175.3,289.90000000000003 Z" fill="#111" stroke="none" stroke-width="1"/>
<path d="M187.89999999999998,303.2 L191.7,305.2 L187.89999999999998,307.2 Z" fill="#111" stroke="none" stroke-width="1"/>
<rect x="204.5" y="228.8" width="20.5" height="10.199999999999989" fill="#ffffff" stroke="#222" stroke-width="0.9"/>
<text x="214.75" y="236.4" font-size="7" fill="#111" text-anchor="middle" stroke="#111" stroke-width="0.25">MSC</text>
<line x1="196.2" y1="235.1" x2="204.5" y2="235.1" stroke="#222" stroke-width="0.8"/>
<rect x="214.2" y="257.6" width="32.30000000000001" height="9.599999999999966" fill="#ffffff" stroke="#222" stroke-width="0.9"/>
<text x="230.35" y="264.9" font-size="7" fill="#111" text-anchor="middle" stroke="#111" stroke-width="0.25">BCP-ALL</text>
<line x1="246.5" y1="263" x2="251" y2="263" stroke="#222" stroke-width="0.8"/>
<text x="334.2" y="194.6" font-size="10.8" fill="#111" text-anchor="start" font-weight="bold" stroke="#111" stroke-width="0.35">C</text>
<line x1="377.6" y1="211.5" x2="377.6" y2="297.9" stroke="#111" stroke-width="1.3"/>
<line x1="374.6" y1="212.3" x2="377.6" y2="212.3" stroke="#111" stroke-width="1.0"/>
<text x="374.0" y="214.60000000000002" font-size="6.6" fill="#1a1a1a" text-anchor="end" stroke="#1a1a1a" stroke-width="0.25">8000</text>
<line x1="374.6" y1="233.6" x2="377.6" y2="233.6" stroke="#111" stroke-width="1.0"/>
<text x="374.0" y="235.9" font-size="6.6" fill="#1a1a1a" text-anchor="end" stroke="#1a1a1a" stroke-width="0.25">6000</text>
<line x1="374.6" y1="255.0" x2="377.6" y2="255.0" stroke="#111" stroke-width="1.0"/>
<text x="374.0" y="257.3" font-size="6.6" fill="#1a1a1a" text-anchor="end" stroke="#1a1a1a" stroke-width="0.25">4000</text>
<line x1="374.6" y1="276.3" x2="377.6" y2="276.3" stroke="#111" stroke-width="1.0"/>
<text x="374.0" y="278.6" font-size="6.6" fill="#1a1a1a" text-anchor="end" stroke="#1a1a1a" stroke-width="0.25">2000</text>
<line x1="374.6" y1="297.4" x2="377.6" y2="297.4" stroke="#111" stroke-width="1.0"/>
<text x="374.0" y="299.7" font-size="6.6" fill="#1a1a1a" text-anchor="end" stroke="#1a1a1a" stroke-width="0.25">0</text>
<rect x="383.0" y="223.3" width="21.19999999999999" height="74.09999999999997" fill="#000" stroke="none" stroke-width="1"/>
<line x1="393.6" y1="223.3" x2="393.6" y2="213.7" stroke="#111" stroke-width="1.3"/>
<line x1="388.0" y1="213.7" x2="399.20000000000005" y2="213.7" stroke="#111" stroke-width="1.4"/>
<rect x="414.1" y="295.7" width="21.19999999999999" height="1.6999999999999886" fill="#bdbdbd" stroke="#111" stroke-width="1"/>
<line x1="419.50000000000006" y1="293.3" x2="429.90000000000003" y2="293.3" stroke="#111" stroke-width="1.1"/>
<line x1="424.70000000000005" y1="293.3" x2="424.70000000000005" y2="295.2" stroke="#111" stroke-width="1.0"/>
<text x="424.70000000000005" y="293.5" font-size="7.2" fill="#111" text-anchor="middle" stroke="#111" stroke-width="0.3">***</text>
<line x1="377.1" y1="297.4" x2="440.6" y2="297.4" stroke="#111" stroke-width="1.2"/>
<line x1="393.6" y1="297.4" x2="393.6" y2="300.4" stroke="#111" stroke-width="1.0"/>
<text x="396.0" y="306.0" font-size="6.7" fill="#1a1a1a" text-anchor="end" transform="rotate(-45 396.0 306.0)" stroke="#1a1a1a" stroke-width="0.25">TNT</text>
<line x1="424.6" y1="297.4" x2="424.6" y2="300.4" stroke="#111" stroke-width="1.0"/>
<text x="427.0" y="306.0" font-size="6.7" fill="#1a1a1a" text-anchor="end" transform="rotate(-45 427.0 306.0)" stroke="#1a1a1a" stroke-width="0.25">ECV</text>
<text x="384.5" y="198.6" font-size="7.45" fill="#1a1a1a" text-anchor="start" stroke="#1a1a1a" stroke-width="0.25">6 hr co-culture</text>
<text x="350.3" y="293.5" font-size="7.85" fill="#1a1a1a" text-anchor="start" transform="rotate(-90 350.3 293.5)" stroke="#1a1a1a" stroke-width="0.25">Dye transfer to MSCs</text>
<line x1="458.5" y1="212.9" x2="458.5" y2="298.1" stroke="#111" stroke-width="1.3"/>
<line x1="455.5" y1="217.7" x2="458.5" y2="217.7" stroke="#111" stroke-width="1.0"/>
<text x="454.4" y="220.0" font-size="6.6" fill="#1a1a1a" text-anchor="end" stroke="#1a1a1a" stroke-width="0.25">15000</text>
<line x1="455.5" y1="240.9" x2="458.5" y2="240.9" stroke="#111" stroke-width="1.0"/>
<text x="454.4" y="243.20000000000002" font-size="6.6" fill="#1a1a1a" text-anchor="end" stroke="#1a1a1a" stroke-width="0.25">10000</text>
<line x1="455.5" y1="264.6" x2="458.5" y2="264.6" stroke="#111" stroke-width="1.0"/>
<text x="454.4" y="266.90000000000003" font-size="6.6" fill="#1a1a1a" text-anchor="end" stroke="#1a1a1a" stroke-width="0.25">5000</text>
<line x1="455.5" y1="289.0" x2="458.5" y2="289.0" stroke="#111" stroke-width="1.0"/>
<text x="454.4" y="291.3" font-size="6.6" fill="#1a1a1a" text-anchor="end" stroke="#1a1a1a" stroke-width="0.25">100</text>
<rect x="462.9" y="218.4" width="21.100000000000023" height="79.20000000000002" fill="#000" stroke="none" stroke-width="1"/>
<line x1="473.45" y1="218.4" x2="473.45" y2="213.4" stroke="#111" stroke-width="1.3"/>
<line x1="467.84999999999997" y1="213.4" x2="479.05" y2="213.4" stroke="#111" stroke-width="1.4"/>
<rect x="492.8" y="295.9" width="20.599999999999966" height="1.7000000000000455" fill="#bdbdbd" stroke="#111" stroke-width="1"/>
<line x1="497.90000000000003" y1="293.3" x2="508.3" y2="293.3" stroke="#111" stroke-width="1.1"/>
<line x1="503.1" y1="293.3" x2="503.1" y2="295.4" stroke="#111" stroke-width="1.0"/>
<text x="503.1" y="292.9" font-size="7.2" fill="#111" text-anchor="middle" stroke="#111" stroke-width="0.3">***</text>
<line x1="458.0" y1="297.6" x2="514.8" y2="297.6" stroke="#111" stroke-width="1.2"/>
<line x1="473.5" y1="297.6" x2="473.5" y2="300.6" stroke="#111" stroke-width="1.0"/>
<text x="475.9" y="306.20000000000005" font-size="6.7" fill="#1a1a1a" text-anchor="end" transform="rotate(-45 475.9 306.20000000000005)" stroke="#1a1a1a" stroke-width="0.25">TNT</text>
<line x1="503.3" y1="297.6" x2="503.3" y2="300.6" stroke="#111" stroke-width="1.0"/>
<text x="505.7" y="306.20000000000005" font-size="6.7" fill="#1a1a1a" text-anchor="end" transform="rotate(-45 505.7 306.20000000000005)" stroke="#1a1a1a" stroke-width="0.25">ECV</text>
<text x="466.0" y="198.7" font-size="7.45" fill="#1a1a1a" text-anchor="start" stroke="#1a1a1a" stroke-width="0.25">24 hr co-culture</text>
<rect x="462.4" y="288.1" width="22.100000000000023" height="1.8" fill="#fff" stroke="none" stroke-width="1"/>
<rect x="457.3" y="287.0" width="2.4" height="4" fill="#fff" stroke="none" stroke-width="1"/>
<line x1="456.5" y1="287.9" x2="460.5" y2="287.1" stroke="#111" stroke-width="0.8"/>
<line x1="456.5" y1="290.1" x2="460.5" y2="289.3" stroke="#111" stroke-width="0.8"/>
<text x="5.5" y="334" font-size="10.5" fill="#111" text-anchor="start" font-weight="bold" stroke="#111" stroke-width="0.35">D</text>
<path d="M46.2,423.2 L47.2,418.0 L47.8,405.0 L48.6,375.0 L49.2,354.5 L49.9,375.0 L50.6,405.0 L51.5,416.0 L53.0,420.5 L54.5,423.2 Z" fill="#7e7e7e" stroke="#3c3c3c" stroke-width="0.6"/>
<path d="M55.0,423.2 L62.0,421.6 L68.0,420.2 L72.0,418.6 L73.6,417.5 L76.6,410.5 L79.1,400.8 L80.9,389.9 L82.1,380.2 L83.3,368.1 L84.5,362.5 L85.5,360.6 L86.3,361.5 L87.2,362.7 L88.0,361.5 L88.7,361.1 L89.4,363.0 L90.0,365.7 L91.2,369.3 L91.8,374.2 L93.6,381.4 L94.2,386.3 L94.8,398.4 L96.5,410.0 L98.5,417.0 L100.2,421.3 L101.5,423.2 Z" fill="#c07278" stroke="none" stroke-width="1"/>
<clipPath id="clp3"><path d="M55.0,423.2 L62.0,421.6 L68.0,420.2 L72.0,418.6 L73.6,417.5 L76.6,410.5 L79.1,400.8 L80.9,389.9 L82.1,380.2 L83.3,368.1 L84.5,362.5 L85.5,360.6 L86.3,361.5 L87.2,362.7 L88.0,361.5 L88.7,361.1 L89.4,363.0 L90.0,365.7 L91.2,369.3 L91.8,374.2 L93.6,381.4 L94.2,386.3 L94.8,398.4 L96.5,410.0 L98.5,417.0 L100.2,421.3 L101.5,423.2 Z"/></clipPath>
<path d="M46.2,423.2 L47.2,418.0 L47.8,405.0 L48.6,375.0 L49.2,354.5 L49.9,375.0 L50.6,405.0 L51.5,416.0 L53.0,420.5 L54.5,423.2 Z" fill="#a4646a" stroke="none" stroke-width="1" clip-path="url(#clp3)"/>
<path d="M55.0,423.2 L62.0,421.6 L68.0,420.2 L72.0,418.6 L73.6,417.5 L76.6,410.5 L79.1,400.8 L80.9,389.9 L82.1,380.2 L83.3,368.1 L84.5,362.5 L85.5,360.6 L86.3,361.5 L87.2,362.7 L88.0,361.5 L88.7,361.1 L89.4,363.0 L90.0,365.7 L91.2,369.3 L91.8,374.2 L93.6,381.4 L94.2,386.3 L94.8,398.4 L96.5,410.0 L98.5,417.0 L100.2,421.3 L101.5,423.2 Z" fill="none" stroke="#70323a" stroke-width="0.6"/>
<path d="M90.6,423.2 L91.8,410.5 L93.0,398.4 L94.2,383.9 L94.8,374.2 L95.8,362.1 L96.8,353.4 L98.0,362.1 L98.8,374.2 L99.0,386.3 L99.6,398.4 L100.8,410.5 L102.6,420.1 L104.5,423.2 Z" fill="#9aacdc" stroke="none" stroke-width="1"/>
<clipPath id="clp4"><path d="M55.0,423.2 L62.0,421.6 L68.0,420.2 L72.0,418.6 L73.6,417.5 L76.6,410.5 L79.1,400.8 L80.9,389.9 L82.1,380.2 L83.3,368.1 L84.5,362.5 L85.5,360.6 L86.3,361.5 L87.2,362.7 L88.0,361.5 L88.7,361.1 L89.4,363.0 L90.0,365.7 L91.2,369.3 L91.8,374.2 L93.6,381.4 L94.2,386.3 L94.8,398.4 L96.5,410.0 L98.5,417.0 L100.2,421.3 L101.5,423.2 Z"/></clipPath>
<path d="M90.6,423.2 L91.8,410.5 L93.0,398.4 L94.2,383.9 L94.8,374.2 L95.8,362.1 L96.8,353.4 L98.0,362.1 L98.8,374.2 L99.0,386.3 L99.6,398.4 L100.8,410.5 L102.6,420.1 L104.5,423.2 Z" fill="#7e7cb0" stroke="none" stroke-width="1" clip-path="url(#clp4)"/>
<path d="M90.6,423.2 L91.8,410.5 L93.0,398.4 L94.2,383.9 L94.8,374.2 L95.8,362.1 L96.8,353.4 L98.0,362.1 L98.8,374.2 L99.0,386.3 L99.6,398.4 L100.8,410.5 L102.6,420.1 L104.5,423.2 Z" fill="none" stroke="#5a70b0" stroke-width="0.6"/>
<line x1="33.3" y1="349.6" x2="107.3" y2="349.6" stroke="#8a8a8a" stroke-width="0.9"/>
<line x1="107.3" y1="349.6" x2="107.3" y2="423.2" stroke="#8a8a8a" stroke-width="0.9"/>
<line x1="33.3" y1="349.1" x2="33.3" y2="423.2" stroke="#444" stroke-width="0.8"/>
<line x1="32.8" y1="423.2" x2="107.3" y2="423.2" stroke="#222" stroke-width="0.9"/>
<line x1="31.299999999999997" y1="423.2" x2="33.3" y2="423.2" stroke="#222" stroke-width="0.8"/>
<text x="30.299999999999997" y="424.2" font-size="2.6" fill="#555" text-anchor="end" stroke="#555" stroke-width="0.25">0</text>
<line x1="31.299999999999997" y1="408.86" x2="33.3" y2="408.86" stroke="#222" stroke-width="0.8"/>
<text x="30.299999999999997" y="409.86" font-size="2.6" fill="#555" text-anchor="end" stroke="#555" stroke-width="0.25">20</text>
<line x1="31.299999999999997" y1="394.52" x2="33.3" y2="394.52" stroke="#222" stroke-width="0.8"/>
<text x="30.299999999999997" y="395.52" font-size="2.6" fill="#555" text-anchor="end" stroke="#555" stroke-width="0.25">40</text>
<line x1="31.299999999999997" y1="380.18" x2="33.3" y2="380.18" stroke="#222" stroke-width="0.8"/>
<text x="30.299999999999997" y="381.18" font-size="2.6" fill="#555" text-anchor="end" stroke="#555" stroke-width="0.25">60</text>
<line x1="31.299999999999997" y1="365.84" x2="33.3" y2="365.84" stroke="#222" stroke-width="0.8"/>
<text x="30.299999999999997" y="366.84" font-size="2.6" fill="#555" text-anchor="end" stroke="#555" stroke-width="0.25">80</text>
<line x1="31.299999999999997" y1="351.5" x2="33.3" y2="351.5" stroke="#222" stroke-width="0.8"/>
<text x="30.299999999999997" y="352.5" font-size="2.6" fill="#555" text-anchor="end" stroke="#555" stroke-width="0.25">100</text>
<line x1="32.3" y1="423.2" x2="33.3" y2="423.2" stroke="#444" stroke-width="0.5"/>
<line x1="32.3" y1="419.615" x2="33.3" y2="419.615" stroke="#444" stroke-width="0.5"/>
<line x1="32.3" y1="416.03" x2="33.3" y2="416.03" stroke="#444" stroke-width="0.5"/>
<line x1="32.3" y1="412.445" x2="33.3" y2="412.445" stroke="#444" stroke-width="0.5"/>
<line x1="32.3" y1="408.86" x2="33.3" y2="408.86" stroke="#444" stroke-width="0.5"/>
<line x1="32.3" y1="405.275" x2="33.3" y2="405.275" stroke="#444" stroke-width="0.5"/>
<line x1="32.3" y1="401.69" x2="33.3" y2="401.69" stroke="#444" stroke-width="0.5"/>
<line x1="32.3" y1="398.105" x2="33.3" y2="398.105" stroke="#444" stroke-width="0.5"/>
<line x1="32.3" y1="394.52" x2="33.3" y2="394.52" stroke="#444" stroke-width="0.5"/>
<line x1="32.3" y1="390.935" x2="33.3" y2="390.935" stroke="#444" stroke-width="0.5"/>
<line x1="32.3" y1="387.35" x2="33.3" y2="387.35" stroke="#444" stroke-width="0.5"/>
<line x1="32.3" y1="383.765" x2="33.3" y2="383.765" stroke="#444" stroke-width="0.5"/>
<line x1="32.3" y1="380.18" x2="33.3" y2="380.18" stroke="#444" stroke-width="0.5"/>
<line x1="32.3" y1="376.59499999999997" x2="33.3" y2="376.59499999999997" stroke="#444" stroke-width="0.5"/>
<line x1="32.3" y1="373.01" x2="33.3" y2="373.01" stroke="#444" stroke-width="0.5"/>
<line x1="32.3" y1="369.425" x2="33.3" y2="369.425" stroke="#444" stroke-width="0.5"/>
<line x1="32.3" y1="365.84" x2="33.3" y2="365.84" stroke="#444" stroke-width="0.5"/>
<line x1="32.3" y1="362.255" x2="33.3" y2="362.255" stroke="#444" stroke-width="0.5"/>
<line x1="32.3" y1="358.66999999999996" x2="33.3" y2="358.66999999999996" stroke="#444" stroke-width="0.5"/>
<line x1="32.3" y1="355.08500000000004" x2="33.3" y2="355.08500000000004" stroke="#444" stroke-width="0.5"/>
<line x1="32.3" y1="351.5" x2="33.3" y2="351.5" stroke="#444" stroke-width="0.5"/>
<line x1="38.5" y1="423.2" x2="38.5" y2="425.2" stroke="#222" stroke-width="0.8"/>
<text x="37.9" y="432.59999999999997" font-size="3.6" fill="#333" stroke="#333" stroke-width="0.15" text-anchor="middle">-10<tspan dy="-2" font-size="2.6">2</tspan></text>
<line x1="49.7" y1="423.2" x2="49.7" y2="425.2" stroke="#222" stroke-width="0.8"/>
<text x="49.7" y="432.59999999999997" font-size="3.6" fill="#333" text-anchor="middle" stroke="#333" stroke-width="0.25">0</text>
<line x1="63.5" y1="423.2" x2="63.5" y2="425.2" stroke="#222" stroke-width="0.8"/>
<text x="62.9" y="432.59999999999997" font-size="3.6" fill="#333" stroke="#333" stroke-width="0.15" text-anchor="middle">10<tspan dy="-2" font-size="2.6">3</tspan></text>
<line x1="83.8" y1="423.2" x2="83.8" y2="425.2" stroke="#222" stroke-width="0.8"/>
<text x="83.2" y="432.59999999999997" font-size="3.6" fill="#333" stroke="#333" stroke-width="0.15" text-anchor="middle">10<tspan dy="-2" font-size="2.6">4</tspan></text>
<line x1="101.0" y1="423.2" x2="101.0" y2="425.2" stroke="#222" stroke-width="0.8"/>
<text x="100.4" y="432.59999999999997" font-size="3.6" fill="#333" stroke="#333" stroke-width="0.15" text-anchor="middle">10<tspan dy="-2" font-size="2.6">5</tspan></text>
<line x1="40.74" y1="423.2" x2="40.74" y2="424.2" stroke="#555" stroke-width="0.5"/>
<line x1="42.980000000000004" y1="423.2" x2="42.980000000000004" y2="424.2" stroke="#555" stroke-width="0.5"/>
<line x1="45.22" y1="423.2" x2="45.22" y2="424.2" stroke="#555" stroke-width="0.5"/>
<line x1="47.46" y1="423.2" x2="47.46" y2="424.2" stroke="#555" stroke-width="0.5"/>
<line x1="52.46" y1="423.2" x2="52.46" y2="424.2" stroke="#555" stroke-width="0.5"/>
<line x1="55.22" y1="423.2" x2="55.22" y2="424.2" stroke="#555" stroke-width="0.5"/>
<line x1="57.980000000000004" y1="423.2" x2="57.980000000000004" y2="424.2" stroke="#555" stroke-width="0.5"/>
<line x1="60.74" y1="423.2" x2="60.74" y2="424.2" stroke="#555" stroke-width="0.5"/>
<line x1="67.56" y1="423.2" x2="67.56" y2="424.2" stroke="#555" stroke-width="0.5"/>
<line x1="71.62" y1="423.2" x2="71.62" y2="424.2" stroke="#555" stroke-width="0.5"/>
<line x1="75.67999999999999" y1="423.2" x2="75.67999999999999" y2="424.2" stroke="#555" stroke-width="0.5"/>
<line x1="79.74" y1="423.2" x2="79.74" y2="424.2" stroke="#555" stroke-width="0.5"/>
<line x1="87.24" y1="423.2" x2="87.24" y2="424.2" stroke="#555" stroke-width="0.5"/>
<line x1="90.67999999999999" y1="423.2" x2="90.67999999999999" y2="424.2" stroke="#555" stroke-width="0.5"/>
<line x1="94.12" y1="423.2" x2="94.12" y2="424.2" stroke="#555" stroke-width="0.5"/>
<line x1="97.56" y1="423.2" x2="97.56" y2="424.2" stroke="#555" stroke-width="0.5"/>
<line x1="47.900000000000006" y1="424.2" x2="51.5" y2="424.2" stroke="#111" stroke-width="1.6"/>
<rect x="110.5" y="350.1" width="2.8" height="2.6" fill="#6f86c0" stroke="none" stroke-width="1"/>
<rect x="110.5" y="366.90000000000003" width="2.8" height="2.6" fill="#333333" stroke="none" stroke-width="1"/>
<rect x="110.5" y="375.3" width="2.8" height="2.6" fill="#8e2a2e" stroke="none" stroke-width="1"/>
<text x="116.2" y="354.0" font-size="6.9" fill="#1a1a1a" text-anchor="start" stroke="#1a1a1a" stroke-width="0.25">Dil-stained</text>
<text x="116.2" y="362.4" font-size="6.9" fill="#1a1a1a" text-anchor="start" stroke="#1a1a1a" stroke-width="0.25">NALM6 (0 hr)</text>
<text x="116.2" y="370.8" font-size="6.9" fill="#1a1a1a" text-anchor="start" stroke="#1a1a1a" stroke-width="0.25">MSCs (0 hr)</text>
<text x="116.2" y="379.2" font-size="6.9" fill="#1a1a1a" text-anchor="start" stroke="#1a1a1a" stroke-width="0.25">MSCs (24 hr)</text>
<text x="39.2" y="333.5" font-size="7.25" fill="#1a1a1a" text-anchor="start" stroke="#1a1a1a" stroke-width="0.25">Tunneling nanotube</text>
<text x="56.0" y="342.0" font-size="7.25" fill="#1a1a1a" text-anchor="start" stroke="#1a1a1a" stroke-width="0.25">signaling</text>
<text x="42.5" y="443.0" font-size="7.25" fill="#1a1a1a" text-anchor="start" stroke="#1a1a1a" stroke-width="0.25">Dil stain (PE)</text>
<text x="17.5" y="390.4" font-size="7.2" fill="#1a1a1a" text-anchor="middle" transform="rotate(-90 17.5 390.4)" stroke="#1a1a1a" stroke-width="0.25">Normalized count</text>
<path d="M13.8,426.1 L13.8,441.8 L28.9,441.8" fill="none" stroke="#111" stroke-width="1.35"/>
<path d="M11.8,426.90000000000003 L13.8,423.1 L15.8,426.90000000000003 Z" fill="#111" stroke="none" stroke-width="1"/>
<path d="M28.099999999999998,439.8 L31.9,441.8 L28.099999999999998,443.8 Z" fill="#111" stroke="none" stroke-width="1"/>
<rect x="56.7" y="361.9" width="17.89999999999999" height="10.700000000000045" fill="#ffffff" stroke="#222" stroke-width="0.9"/>
<text x="65.65" y="369.75" font-size="7" fill="#111" text-anchor="middle" stroke="#111" stroke-width="0.25">MSC</text>
<path d="M56.7,367.2 L50.2,367.9" fill="none" stroke="#222" stroke-width="0.8"/>
<path d="M74.6,367.2 L81.5,368.3" fill="none" stroke="#222" stroke-width="0.8"/>
<circle cx="82.3" cy="368.4" r="0.9" fill="#222"/>
<rect x="109.8" y="387.4" width="33.2" height="10.700000000000045" fill="#ffffff" stroke="#222" stroke-width="0.9"/>
<text x="126.4" y="395.25" font-size="7" fill="#111" text-anchor="middle" stroke="#111" stroke-width="0.25">BCP-ALL</text>
<line x1="102" y1="392.5" x2="109.8" y2="392.5" stroke="#222" stroke-width="0.8"/>
<path d="M202.8,423.2 L203.5,418.0 L204.2,408.0 L204.6,392.0 L205.4,370.0 L206.3,354.3 L207.0,368.0 L207.8,392.0 L208.5,408.0 L209.3,417.0 L211.0,421.5 L216.0,422.2 L225.0,423.2 Z" fill="#8a3434" stroke="#5a1a1a" stroke-width="0.6"/>
<path d="M252.9,423.2 L253.8,416.0 L254.4,412.0 L255.0,400.0 L255.5,386.0 L256.2,365.0 L257.0,352.9 L257.7,365.0 L258.6,386.0 L259.5,402.0 L260.3,412.0 L261.8,419.0 L263.6,423.2 Z" fill="#9aacdc" stroke="#5a70b0" stroke-width="0.6"/>
<line x1="190.3" y1="349.6" x2="264.4" y2="349.6" stroke="#8a8a8a" stroke-width="0.9"/>
<line x1="264.4" y1="349.6" x2="264.4" y2="423.2" stroke="#8a8a8a" stroke-width="0.9"/>
<line x1="190.3" y1="349.1" x2="190.3" y2="423.2" stroke="#444" stroke-width="0.8"/>
<line x1="189.8" y1="423.2" x2="264.4" y2="423.2" stroke="#222" stroke-width="0.9"/>
<line x1="188.3" y1="423.2" x2="190.3" y2="423.2" stroke="#222" stroke-width="0.8"/>
<text x="187.3" y="424.2" font-size="2.6" fill="#555" text-anchor="end" stroke="#555" stroke-width="0.25">0</text>
<line x1="188.3" y1="408.86" x2="190.3" y2="408.86" stroke="#222" stroke-width="0.8"/>
<text x="187.3" y="409.86" font-size="2.6" fill="#555" text-anchor="end" stroke="#555" stroke-width="0.25">20</text>
<line x1="188.3" y1="394.52" x2="190.3" y2="394.52" stroke="#222" stroke-width="0.8"/>
<text x="187.3" y="395.52" font-size="2.6" fill="#555" text-anchor="end" stroke="#555" stroke-width="0.25">40</text>
<line x1="188.3" y1="380.18" x2="190.3" y2="380.18" stroke="#222" stroke-width="0.8"/>
<text x="187.3" y="381.18" font-size="2.6" fill="#555" text-anchor="end" stroke="#555" stroke-width="0.25">60</text>
<line x1="188.3" y1="365.84" x2="190.3" y2="365.84" stroke="#222" stroke-width="0.8"/>
<text x="187.3" y="366.84" font-size="2.6" fill="#555" text-anchor="end" stroke="#555" stroke-width="0.25">80</text>
<line x1="188.3" y1="351.5" x2="190.3" y2="351.5" stroke="#222" stroke-width="0.8"/>
<text x="187.3" y="352.5" font-size="2.6" fill="#555" text-anchor="end" stroke="#555" stroke-width="0.25">100</text>
<line x1="189.3" y1="423.2" x2="190.3" y2="423.2" stroke="#444" stroke-width="0.5"/>
<line x1="189.3" y1="419.615" x2="190.3" y2="419.615" stroke="#444" stroke-width="0.5"/>
<line x1="189.3" y1="416.03" x2="190.3" y2="416.03" stroke="#444" stroke-width="0.5"/>
<line x1="189.3" y1="412.445" x2="190.3" y2="412.445" stroke="#444" stroke-width="0.5"/>
<line x1="189.3" y1="408.86" x2="190.3" y2="408.86" stroke="#444" stroke-width="0.5"/>
<line x1="189.3" y1="405.275" x2="190.3" y2="405.275" stroke="#444" stroke-width="0.5"/>
<line x1="189.3" y1="401.69" x2="190.3" y2="401.69" stroke="#444" stroke-width="0.5"/>
<line x1="189.3" y1="398.105" x2="190.3" y2="398.105" stroke="#444" stroke-width="0.5"/>
<line x1="189.3" y1="394.52" x2="190.3" y2="394.52" stroke="#444" stroke-width="0.5"/>
<line x1="189.3" y1="390.935" x2="190.3" y2="390.935" stroke="#444" stroke-width="0.5"/>
<line x1="189.3" y1="387.35" x2="190.3" y2="387.35" stroke="#444" stroke-width="0.5"/>
<line x1="189.3" y1="383.765" x2="190.3" y2="383.765" stroke="#444" stroke-width="0.5"/>
<line x1="189.3" y1="380.18" x2="190.3" y2="380.18" stroke="#444" stroke-width="0.5"/>
<line x1="189.3" y1="376.59499999999997" x2="190.3" y2="376.59499999999997" stroke="#444" stroke-width="0.5"/>
<line x1="189.3" y1="373.01" x2="190.3" y2="373.01" stroke="#444" stroke-width="0.5"/>
<line x1="189.3" y1="369.425" x2="190.3" y2="369.425" stroke="#444" stroke-width="0.5"/>
<line x1="189.3" y1="365.84" x2="190.3" y2="365.84" stroke="#444" stroke-width="0.5"/>
<line x1="189.3" y1="362.255" x2="190.3" y2="362.255" stroke="#444" stroke-width="0.5"/>
<line x1="189.3" y1="358.66999999999996" x2="190.3" y2="358.66999999999996" stroke="#444" stroke-width="0.5"/>
<line x1="189.3" y1="355.08500000000004" x2="190.3" y2="355.08500000000004" stroke="#444" stroke-width="0.5"/>
<line x1="189.3" y1="351.5" x2="190.3" y2="351.5" stroke="#444" stroke-width="0.5"/>
<line x1="196.0" y1="423.2" x2="196.0" y2="425.2" stroke="#222" stroke-width="0.8"/>
<text x="195.4" y="432.59999999999997" font-size="3.6" fill="#333" stroke="#333" stroke-width="0.15" text-anchor="middle">-10<tspan dy="-2" font-size="2.6">2</tspan></text>
<line x1="206.3" y1="423.2" x2="206.3" y2="425.2" stroke="#222" stroke-width="0.8"/>
<text x="206.3" y="432.59999999999997" font-size="3.6" fill="#333" text-anchor="middle" stroke="#333" stroke-width="0.25">0</text>
<line x1="219.5" y1="423.2" x2="219.5" y2="425.2" stroke="#222" stroke-width="0.8"/>
<text x="218.9" y="432.59999999999997" font-size="3.6" fill="#333" stroke="#333" stroke-width="0.15" text-anchor="middle">10<tspan dy="-2" font-size="2.6">3</tspan></text>
<line x1="240.6" y1="423.2" x2="240.6" y2="425.2" stroke="#222" stroke-width="0.8"/>
<text x="240.0" y="432.59999999999997" font-size="3.6" fill="#333" stroke="#333" stroke-width="0.15" text-anchor="middle">10<tspan dy="-2" font-size="2.6">4</tspan></text>
<line x1="257.1" y1="423.2" x2="257.1" y2="425.2" stroke="#222" stroke-width="0.8"/>
<text x="256.5" y="432.59999999999997" font-size="3.6" fill="#333" stroke="#333" stroke-width="0.15" text-anchor="middle">10<tspan dy="-2" font-size="2.6">5</tspan></text>
<line x1="198.06" y1="423.2" x2="198.06" y2="424.2" stroke="#555" stroke-width="0.5"/>
<line x1="200.12" y1="423.2" x2="200.12" y2="424.2" stroke="#555" stroke-width="0.5"/>
<line x1="202.18" y1="423.2" x2="202.18" y2="424.2" stroke="#555" stroke-width="0.5"/>
<line x1="204.24" y1="423.2" x2="204.24" y2="424.2" stroke="#555" stroke-width="0.5"/>
<line x1="208.94" y1="423.2" x2="208.94" y2="424.2" stroke="#555" stroke-width="0.5"/>
<line x1="211.58" y1="423.2" x2="211.58" y2="424.2" stroke="#555" stroke-width="0.5"/>
<line x1="214.22" y1="423.2" x2="214.22" y2="424.2" stroke="#555" stroke-width="0.5"/>
<line x1="216.86" y1="423.2" x2="216.86" y2="424.2" stroke="#555" stroke-width="0.5"/>
<line x1="223.72" y1="423.2" x2="223.72" y2="424.2" stroke="#555" stroke-width="0.5"/>
<line x1="227.94" y1="423.2" x2="227.94" y2="424.2" stroke="#555" stroke-width="0.5"/>
<line x1="232.16" y1="423.2" x2="232.16" y2="424.2" stroke="#555" stroke-width="0.5"/>
<line x1="236.38" y1="423.2" x2="236.38" y2="424.2" stroke="#555" stroke-width="0.5"/>
<line x1="243.9" y1="423.2" x2="243.9" y2="424.2" stroke="#555" stroke-width="0.5"/>
<line x1="247.20000000000002" y1="423.2" x2="247.20000000000002" y2="424.2" stroke="#555" stroke-width="0.5"/>
<line x1="250.5" y1="423.2" x2="250.5" y2="424.2" stroke="#555" stroke-width="0.5"/>
<line x1="253.8" y1="423.2" x2="253.8" y2="424.2" stroke="#555" stroke-width="0.5"/>
<line x1="204.5" y1="424.2" x2="208.10000000000002" y2="424.2" stroke="#111" stroke-width="1.6"/>
<rect x="267.3" y="350.5" width="2.8" height="2.6" fill="#6f86c0" stroke="none" stroke-width="1"/>
<rect x="267.3" y="367.3" width="2.8" height="2.6" fill="#333333" stroke="none" stroke-width="1"/>
<rect x="267.3" y="375.7" width="2.8" height="2.6" fill="#8e2a2e" stroke="none" stroke-width="1"/>
<text x="273.0" y="354.4" font-size="6.9" fill="#1a1a1a" text-anchor="start" stroke="#1a1a1a" stroke-width="0.25">Calcein-stained</text>
<text x="273.0" y="362.79999999999995" font-size="6.9" fill="#1a1a1a" text-anchor="start" stroke="#1a1a1a" stroke-width="0.25">NALM6 (0 hr)</text>
<text x="273.0" y="371.2" font-size="6.9" fill="#1a1a1a" text-anchor="start" stroke="#1a1a1a" stroke-width="0.25">MSCs (0 hr)</text>
<text x="273.0" y="379.59999999999997" font-size="6.9" fill="#1a1a1a" text-anchor="start" stroke="#1a1a1a" stroke-width="0.25">MSCs (24 hr)</text>
<text x="209.8" y="333.8" font-size="7.25" fill="#1a1a1a" text-anchor="start" stroke="#1a1a1a" stroke-width="0.25">Gap junction</text>
<text x="216.1" y="341.5" font-size="7.25" fill="#1a1a1a" text-anchor="start" stroke="#1a1a1a" stroke-width="0.25">signaling</text>
<text x="199.1" y="443.0" font-size="7.25" fill="#1a1a1a" text-anchor="start" stroke="#1a1a1a" stroke-width="0.25">Calcein stain (PE)</text>
<text x="174.2" y="390.4" font-size="7.2" fill="#1a1a1a" text-anchor="middle" transform="rotate(-90 174.2 390.4)" stroke="#1a1a1a" stroke-width="0.25">Normalized count</text>
<path d="M170.8,426.5 L170.8,442.1 L185.9,442.1" fill="none" stroke="#111" stroke-width="1.35"/>
<path d="M168.8,427.3 L170.8,423.5 L172.8,427.3 Z" fill="#111" stroke="none" stroke-width="1"/>
<path d="M185.1,440.1 L188.9,442.1 L185.1,444.1 Z" fill="#111" stroke="none" stroke-width="1"/>
<rect x="219.8" y="358.2" width="17.5" height="10.400000000000034" fill="#ffffff" stroke="#222" stroke-width="0.9"/>
<text x="228.55" y="365.9" font-size="7" fill="#111" text-anchor="middle" stroke="#111" stroke-width="0.25">MSC</text>
<line x1="209.7" y1="367.2" x2="219.8" y2="365.4" stroke="#222" stroke-width="0.8"/>
<rect x="215.0" y="385.8" width="30.599999999999994" height="10.599999999999966" fill="#ffffff" stroke="#222" stroke-width="0.9"/>
<text x="230.3" y="393.6" font-size="7" fill="#111" text-anchor="middle" stroke="#111" stroke-width="0.25">BCP-ALL</text>
<line x1="245.6" y1="391" x2="254.2" y2="390.8" stroke="#222" stroke-width="0.8"/>
<text x="334.2" y="334.4" font-size="10.8" fill="#111" text-anchor="start" font-weight="bold" stroke="#111" stroke-width="0.35">E</text>
<line x1="375.6" y1="347.5" x2="375.6" y2="435.7" stroke="#111" stroke-width="1.3"/>
<line x1="372.6" y1="348.8" x2="375.6" y2="348.8" stroke="#111" stroke-width="1.0"/>
<text x="372.8" y="351.1" font-size="6.6" fill="#1a1a1a" text-anchor="end" stroke="#1a1a1a" stroke-width="0.25">8000</text>
<line x1="372.6" y1="370.4" x2="375.6" y2="370.4" stroke="#111" stroke-width="1.0"/>
<text x="372.8" y="372.7" font-size="6.6" fill="#1a1a1a" text-anchor="end" stroke="#1a1a1a" stroke-width="0.25">6000</text>
<line x1="372.6" y1="391.8" x2="375.6" y2="391.8" stroke="#111" stroke-width="1.0"/>
<text x="372.8" y="394.1" font-size="6.6" fill="#1a1a1a" text-anchor="end" stroke="#1a1a1a" stroke-width="0.25">4000</text>
<line x1="372.6" y1="413.3" x2="375.6" y2="413.3" stroke="#111" stroke-width="1.0"/>
<text x="372.8" y="415.6" font-size="6.6" fill="#1a1a1a" text-anchor="end" stroke="#1a1a1a" stroke-width="0.25">2000</text>
<line x1="372.6" y1="435.2" x2="375.6" y2="435.2" stroke="#111" stroke-width="1.0"/>
<text x="372.8" y="437.5" font-size="6.6" fill="#1a1a1a" text-anchor="end" stroke="#1a1a1a" stroke-width="0.25">0</text>
<rect x="380.4" y="366.5" width="21.100000000000023" height="68.69999999999999" fill="#000" stroke="none" stroke-width="1"/>
<line x1="390.95" y1="366.5" x2="390.95" y2="355.6" stroke="#111" stroke-width="1.3"/>
<line x1="385.34999999999997" y1="355.6" x2="396.55" y2="355.6" stroke="#111" stroke-width="1.4"/>
<rect x="410.7" y="431.0" width="20.19999999999999" height="4.199999999999989" fill="#9a9a9a" stroke="#111" stroke-width="1"/>
<line x1="415.59999999999997" y1="429.7" x2="425.99999999999994" y2="429.7" stroke="#111" stroke-width="1.1"/>
<line x1="420.79999999999995" y1="429.7" x2="420.79999999999995" y2="430.5" stroke="#111" stroke-width="1.0"/>
<text x="420.79999999999995" y="429.29999999999995" font-size="7.2" fill="#111" text-anchor="middle" stroke="#111" stroke-width="0.3">***</text>
<line x1="375.1" y1="435.2" x2="437" y2="435.2" stroke="#111" stroke-width="1.2"/>
<line x1="391.0" y1="435.2" x2="391.0" y2="438.2" stroke="#111" stroke-width="1.0"/>
<text x="393.4" y="443.8" font-size="6.7" fill="#1a1a1a" text-anchor="end" transform="rotate(-45 393.4 443.8)" stroke="#1a1a1a" stroke-width="0.25">TNT</text>
<line x1="420.5" y1="435.2" x2="420.5" y2="438.2" stroke="#111" stroke-width="1.0"/>
<text x="422.9" y="443.8" font-size="6.7" fill="#1a1a1a" text-anchor="end" transform="rotate(-45 422.9 443.8)" stroke="#1a1a1a" stroke-width="0.25">Gap</text>
<text x="384.4" y="338.3" font-size="7.45" fill="#1a1a1a" text-anchor="start" stroke="#1a1a1a" stroke-width="0.25">8 hr co-culture</text>
<text x="349.8" y="423.5" font-size="7.85" fill="#1a1a1a" text-anchor="start" transform="rotate(-90 349.8 423.5)" stroke="#1a1a1a" stroke-width="0.25">Dye transfer to MSCs</text>
<line x1="458.4" y1="347.7" x2="458.4" y2="435.7" stroke="#111" stroke-width="1.3"/>
<line x1="455.4" y1="358.1" x2="458.4" y2="358.1" stroke="#111" stroke-width="1.0"/>
<text x="455.6" y="360.40000000000003" font-size="6.6" fill="#1a1a1a" text-anchor="end" stroke="#1a1a1a" stroke-width="0.25">20000</text>
<line x1="455.4" y1="377.3" x2="458.4" y2="377.3" stroke="#111" stroke-width="1.0"/>
<text x="455.6" y="379.6" font-size="6.6" fill="#1a1a1a" text-anchor="end" stroke="#1a1a1a" stroke-width="0.25">15000</text>
<line x1="455.4" y1="396.7" x2="458.4" y2="396.7" stroke="#111" stroke-width="1.0"/>
<text x="455.6" y="399.0" font-size="6.6" fill="#1a1a1a" text-anchor="end" stroke="#1a1a1a" stroke-width="0.25">10000</text>
<line x1="455.4" y1="415.8" x2="458.4" y2="415.8" stroke="#111" stroke-width="1.0"/>
<text x="455.6" y="418.1" font-size="6.6" fill="#1a1a1a" text-anchor="end" stroke="#1a1a1a" stroke-width="0.25">5000</text>
<line x1="455.4" y1="435.2" x2="458.4" y2="435.2" stroke="#111" stroke-width="1.0"/>
<text x="455.6" y="437.5" font-size="6.6" fill="#1a1a1a" text-anchor="end" stroke="#1a1a1a" stroke-width="0.25">0</text>
<rect x="463.5" y="361.6" width="20.80000000000001" height="73.59999999999997" fill="#000" stroke="none" stroke-width="1"/>
<line x1="473.9" y1="361.6" x2="473.9" y2="353.5" stroke="#111" stroke-width="1.3"/>
<line x1="468.29999999999995" y1="353.5" x2="479.5" y2="353.5" stroke="#111" stroke-width="1.4"/>
<rect x="495.5" y="434.3" width="17.5" height="0.8999999999999773" fill="#9a9a9a" stroke="#111" stroke-width="1"/>
<line x1="499.05" y1="433.0" x2="509.45" y2="433.0" stroke="#111" stroke-width="1.1"/>
<line x1="504.25" y1="433.0" x2="504.25" y2="433.8" stroke="#111" stroke-width="1.0"/>
<text x="504.25" y="433.29999999999995" font-size="7.2" fill="#111" text-anchor="middle" stroke="#111" stroke-width="0.3">***</text>
<line x1="457.9" y1="435.2" x2="518.2" y2="435.2" stroke="#111" stroke-width="1.2"/>
<line x1="473.9" y1="435.2" x2="473.9" y2="438.2" stroke="#111" stroke-width="1.0"/>
<text x="476.29999999999995" y="443.8" font-size="6.7" fill="#1a1a1a" text-anchor="end" transform="rotate(-45 476.29999999999995 443.8)" stroke="#1a1a1a" stroke-width="0.25">TNT</text>
<line x1="505.5" y1="435.2" x2="505.5" y2="438.2" stroke="#111" stroke-width="1.0"/>
<text x="507.9" y="443.8" font-size="6.7" fill="#1a1a1a" text-anchor="end" transform="rotate(-45 507.9 443.8)" stroke="#1a1a1a" stroke-width="0.25">Gap</text>
<text x="465.8" y="338.5" font-size="7.45" fill="#1a1a1a" text-anchor="start" stroke="#1a1a1a" stroke-width="0.25">24 hr co-culture</text>
<text x="5.3" y="462.2" font-size="10.5" fill="#111" text-anchor="start" font-weight="bold" stroke="#111" stroke-width="0.35">F</text>
<line x1="42.9" y1="470.2" x2="42.9" y2="565.2" stroke="#111" stroke-width="1.1"/>
<line x1="40.4" y1="475.3" x2="42.9" y2="475.3" stroke="#111" stroke-width="0.9"/>
<text x="39.5" y="477.7" font-size="6.7" fill="#1a1a1a" text-anchor="end" stroke="#1a1a1a" stroke-width="0.25">1.0</text>
<line x1="40.4" y1="520.0" x2="42.9" y2="520.0" stroke="#111" stroke-width="0.9"/>
<text x="39.5" y="522.4" font-size="6.7" fill="#1a1a1a" text-anchor="end" stroke="#1a1a1a" stroke-width="0.25">0.5</text>
<line x1="40.4" y1="564.6" x2="42.9" y2="564.6" stroke="#111" stroke-width="0.9"/>
<text x="39.5" y="567.0" font-size="6.7" fill="#1a1a1a" text-anchor="end" stroke="#1a1a1a" stroke-width="0.25">0.0</text>
<rect x="46.4" y="474.9" width="14.200000000000003" height="89.80000000000007" fill="#000" stroke="none" stroke-width="1"/>
<rect x="66.8" y="492.1" width="12.899999999999995" height="72.60000000000005" fill="#808080" stroke="#111" stroke-width="1.2"/>
<line x1="73.25" y1="491.5" x2="73.25" y2="488.5" stroke="#111" stroke-width="1.1"/>
<line x1="69.65" y1="488.5" x2="76.85" y2="488.5" stroke="#111" stroke-width="1.2"/>
<text x="73.25" y="487.3" font-size="7.2" fill="#111" text-anchor="middle" stroke="#111" stroke-width="0.3">**</text>
<rect x="87.1" y="502.40000000000003" width="12.599999999999998" height="62.30000000000003" fill="#808080" stroke="#111" stroke-width="1.2"/>
<line x1="93.4" y1="501.8" x2="93.4" y2="498.5" stroke="#111" stroke-width="1.1"/>
<line x1="89.80000000000001" y1="498.5" x2="97.0" y2="498.5" stroke="#111" stroke-width="1.2"/>
<text x="93.4" y="497.3" font-size="7.2" fill="#111" text-anchor="middle" stroke="#111" stroke-width="0.3">*</text>
<rect x="107.1" y="508.0" width="12.599999999999998" height="56.70000000000007" fill="#808080" stroke="#111" stroke-width="1.2"/>
<line x1="113.4" y1="507.4" x2="113.4" y2="503.5" stroke="#111" stroke-width="1.1"/>
<line x1="109.80000000000001" y1="503.5" x2="117.0" y2="503.5" stroke="#111" stroke-width="1.2"/>
<text x="113.4" y="502.7" font-size="7.2" fill="#111" text-anchor="middle" stroke="#111" stroke-width="0.3">**</text>
<rect x="127.1" y="482.40000000000003" width="12.600000000000012" height="82.30000000000004" fill="#e2e2e2" stroke="#111" stroke-width="1.2"/>
<line x1="133.4" y1="481.8" x2="133.4" y2="476.6" stroke="#111" stroke-width="1.1"/>
<line x1="129.8" y1="476.6" x2="137.0" y2="476.6" stroke="#111" stroke-width="1.2"/>
<rect x="147.1" y="484.0" width="12.8" height="80.70000000000007" fill="#e2e2e2" stroke="#111" stroke-width="1.2"/>
<line x1="153.5" y1="483.4" x2="153.5" y2="478.5" stroke="#111" stroke-width="1.1"/>
<line x1="149.9" y1="478.5" x2="157.1" y2="478.5" stroke="#111" stroke-width="1.2"/>
<rect x="167.1" y="481.40000000000003" width="12.600000000000012" height="83.30000000000004" fill="#e2e2e2" stroke="#111" stroke-width="1.2"/>
<line x1="173.4" y1="480.8" x2="173.4" y2="473.5" stroke="#111" stroke-width="1.1"/>
<line x1="169.8" y1="473.5" x2="177.0" y2="473.5" stroke="#111" stroke-width="1.2"/>
<line x1="42.4" y1="564.7" x2="184.4" y2="564.7" stroke="#111" stroke-width="1.1"/>
<line x1="53.4" y1="564.7" x2="53.4" y2="567.7" stroke="#111" stroke-width="0.9"/>
<text x="54.4" y="574.6" font-size="7.0" fill="#1a1a1a" text-anchor="end" transform="rotate(-45 54.4 574.6)" stroke="#1a1a1a" stroke-width="0.25">Normal</text>
<line x1="73.4" y1="564.7" x2="73.4" y2="567.7" stroke="#111" stroke-width="0.9"/>
<text x="74.4" y="574.6" font-size="7.0" fill="#1a1a1a" text-anchor="end" transform="rotate(-45 74.4 574.6)" stroke="#1a1a1a" stroke-width="0.25">20 μM</text>
<line x1="93.4" y1="564.7" x2="93.4" y2="567.7" stroke="#111" stroke-width="0.9"/>
<text x="94.4" y="574.6" font-size="7.0" fill="#1a1a1a" text-anchor="end" transform="rotate(-45 94.4 574.6)" stroke="#1a1a1a" stroke-width="0.25">50 μM</text>
<line x1="113.4" y1="564.7" x2="113.4" y2="567.7" stroke="#111" stroke-width="0.9"/>
<text x="114.4" y="574.6" font-size="7.0" fill="#1a1a1a" text-anchor="end" transform="rotate(-45 114.4 574.6)" stroke="#1a1a1a" stroke-width="0.25">100 μM</text>
<line x1="133.4" y1="564.7" x2="133.4" y2="567.7" stroke="#111" stroke-width="0.9"/>
<text x="134.4" y="574.6" font-size="7.0" fill="#1a1a1a" text-anchor="end" transform="rotate(-45 134.4 574.6)" stroke="#1a1a1a" stroke-width="0.25">20 μM</text>
<line x1="153.4" y1="564.7" x2="153.4" y2="567.7" stroke="#111" stroke-width="0.9"/>
<text x="154.4" y="574.6" font-size="7.0" fill="#1a1a1a" text-anchor="end" transform="rotate(-45 154.4 574.6)" stroke="#1a1a1a" stroke-width="0.25">50 μM</text>
<line x1="173.4" y1="564.7" x2="173.4" y2="567.7" stroke="#111" stroke-width="0.9"/>
<text x="174.4" y="574.6" font-size="7.0" fill="#1a1a1a" text-anchor="end" transform="rotate(-45 174.4 574.6)" stroke="#1a1a1a" stroke-width="0.25">100 μM</text>
<text x="19.0" y="564.3" font-size="7.62" fill="#1a1a1a" text-anchor="start" transform="rotate(-90 19.0 564.3)" stroke="#1a1a1a" stroke-width="0.25">Relative Dil transfer to MSC</text>
<path d="M62,596.4 L117.6,591.4 L117.6,597.2 Z" fill="#ffffff" stroke="#111" stroke-width="0.8"/>
<path d="M125.2,596.4 L180.6,591.4 L180.6,597.2 Z" fill="#ffffff" stroke="#111" stroke-width="0.8"/>
<text x="77.2" y="610.8" font-size="8.9" fill="#1a1a1a" text-anchor="start" stroke="#1a1a1a" stroke-width="0.25">RGDS</text>
<text x="136.6" y="610.8" font-size="8.9" fill="#1a1a1a" text-anchor="start" stroke="#1a1a1a" stroke-width="0.25">GRADSP</text>
</svg>
</body></html>
